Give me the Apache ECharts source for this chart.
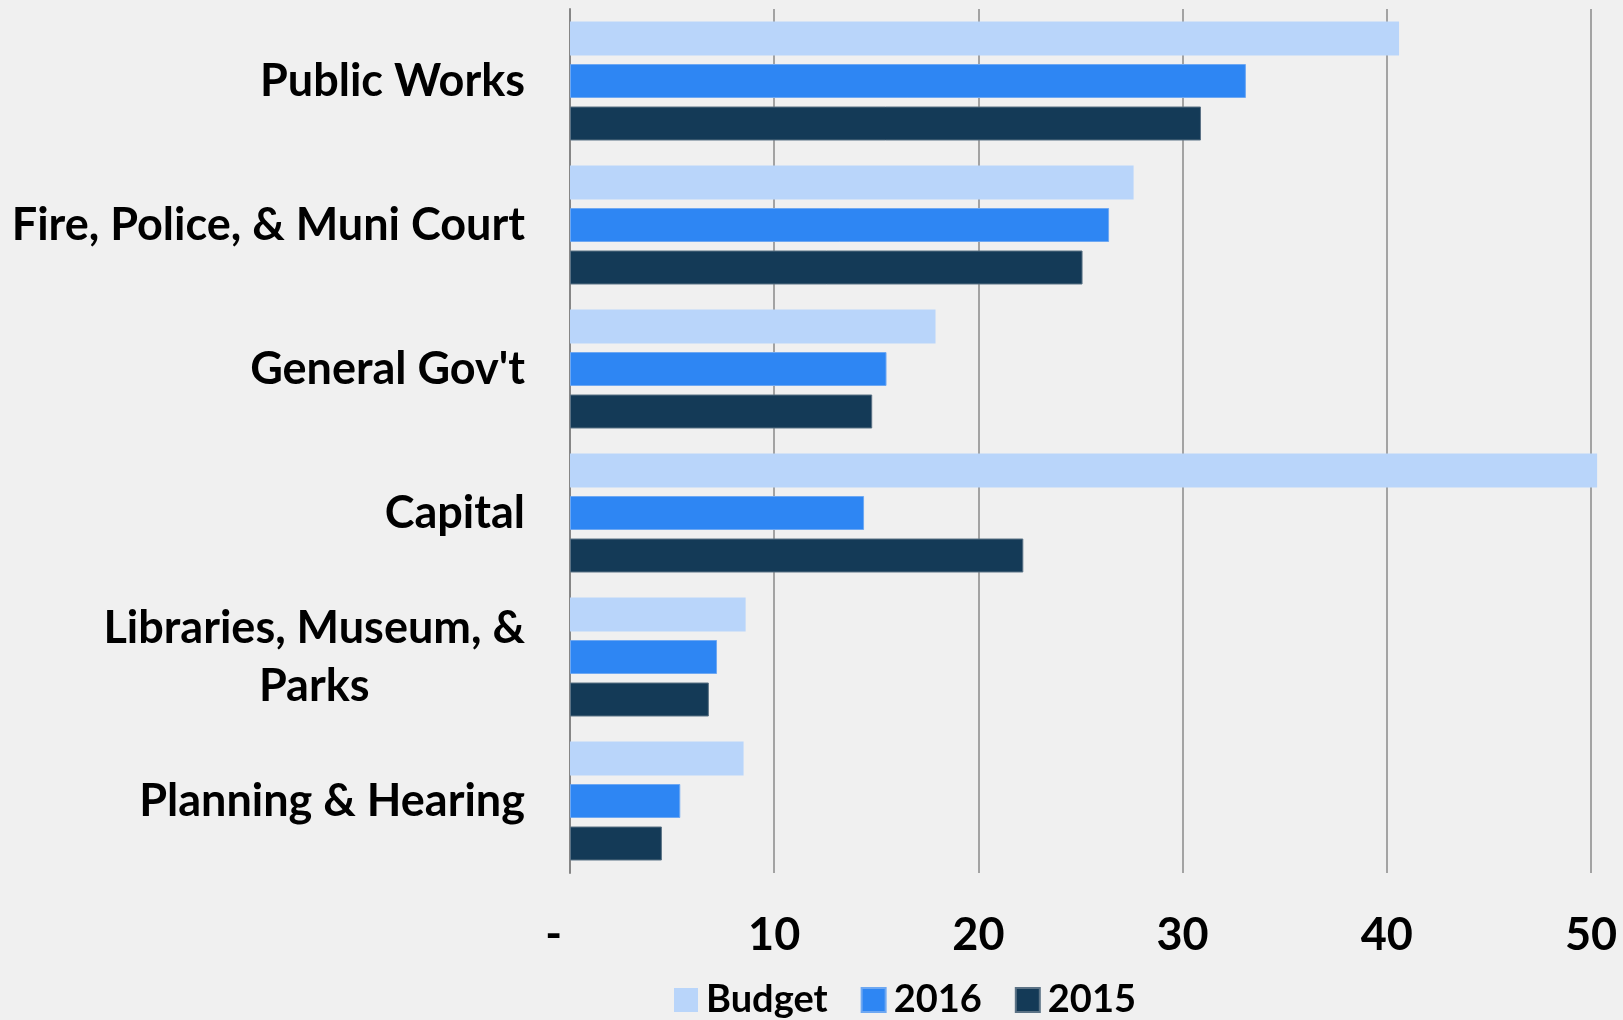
<!DOCTYPE html>
<html>
<head>
    <meta charset="utf-8">
    <title>Spending by department</title>
    <script src="https://cdn.jsdelivr.net/npm/echarts@6/dist/echarts.min.js"></script>
    <style>
        html, body { margin: 0; padding: 0; background: #f0f0f0; }
        #main { width: 1623px; height: 1020px; }
    </style>
</head>
<body>
<div id="main"></div>
<script>
    // categories top to bottom
    var categories = ['Public Works', 'Fire, Police, & Muni Court', "General Gov't", 'Capital',
        'Libraries, Museum, &\nParks', 'Planning & Hearing'];
    var budget = [40.6, 27.6, 17.9, 50.3, 8.6, 8.5];
    var y2016 = [33.1, 26.4, 15.5, 14.4, 7.2, 5.4];
    var y2015 = [30.9, 25.1, 14.8, 22.2, 6.8, 4.5];
    var xTicks = [0, 10, 20, 30, 40, 50];

    var font = 'Lato';
    var chart = echarts.init(document.getElementById('main'));

    var option = {
        backgroundColor: '#f0f0f0',
        animation: false,
        grid: {left: 570, right: 32, top: 9, bottom: 147},
        legend: {
            data: ['Budget', '2016', '2015'],
            top: 976,
            left: 669,
            itemWidth: 24,
            itemHeight: 24,
            itemGap: 33,
            icon: 'rect',
            textStyle: {fontFamily: font, fontWeight: 'bold', fontSize: 38, color: '#000', padding: [0, 0, 0, 3]}
        },
        xAxis: {
            type: 'value',
            min: 0,
            max: 50,
            interval: 10,
            axisLine: {show: false},
            axisTick: {show: false},
            splitLine: {lineStyle: {color: '#8a8a8a', width: 1.5}},
            axisLabel: {
                margin: 40,
                fontFamily: font, fontWeight: 'bold', fontSize: 45, color: '#000',
                formatter: function (v) {
                    return xTicks.indexOf(v) === 0 ? '-   ' : String(v);
                }
            }
        },
        yAxis: {
            type: 'category',
            inverse: true,
            data: categories,
            axisLine: {show: true, lineStyle: {color: '#868686', width: 2}},
            axisTick: {show: false},
            axisLabel: {
                margin: 45,
                formatter: function (v) {
                    return v.split('\n').map(function (s) { return '{c|' + s + '}'; }).join('\n');
                },
                rich: {
                    c: {fontFamily: font, fontWeight: 'bold', fontSize: 45, color: '#000', align: 'center', lineHeight: 58}
                }
            }
        },
        series: [
            {name: 'Budget', type: 'bar', data: budget, barWidth: 34, barGap: '25%', clip: false,
                itemStyle: {color: '#b9d5fa'}},
            {name: '2016', type: 'bar', data: y2016, barWidth: 34, barGap: '25%', clip: false,
                itemStyle: {color: '#2e86f3', borderColor: '#6ea8f2', borderWidth: 1}},
            {name: '2015', type: 'bar', data: y2015, barWidth: 34, barGap: '25%', clip: false,
                itemStyle: {color: '#143a57', borderColor: '#5b7285', borderWidth: 1}}
        ]
    };
    chart.setOption(option);
</script>
</body>
</html>
